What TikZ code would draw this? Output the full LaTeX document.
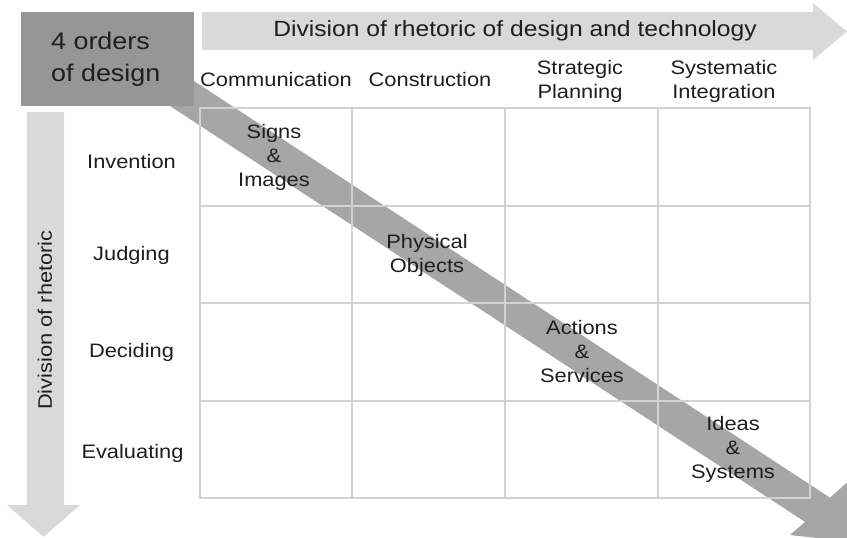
\documentclass[tikz,border=0pt]{standalone}
\usepackage{fontspec}
\setmainfont{Liberation Sans}[FakeStretch=1.12]
\definecolor{lightarrow}{HTML}{D9D9D9}
\definecolor{darkbox}{HTML}{969696}
\definecolor{bandgray}{HTML}{A6A6A6}
\definecolor{gridgray}{HTML}{D2D2D2}
\definecolor{txt}{HTML}{1E1E1E}
\begin{document}
\begin{tikzpicture}[x=1pt,y=-1pt,
  lbl/.style={font=\fontsize{19.5}{24}\selectfont, text=txt, inner sep=0pt, align=center},
  titlelbl/.style={font=\fontsize{22}{26}\selectfont, text=txt, inner sep=0pt},
  bigl/.style={font=\fontsize{24}{32}\selectfont, text=txt, inner sep=0pt, align=left},
  gridline/.style={draw=gridgray, line width=2pt},
  shapefill/.style={draw=none}]
\useasboundingbox (0,0) rectangle (847,538);
\clip (0,0) rectangle (847,538);
\fill[white] (0,0) rectangle (847,538);
% top arrow
\fill[lightarrow] (202,12) -- (813,12) -- (813,3) -- (847,31.5) -- (813,60) -- (813,50) -- (202,50) -- cycle;
% left arrow
\fill[lightarrow] (27,112) -- (64,112) -- (64,505) -- (80,505) -- (43.5,537) -- (7,505) -- (27,505) -- cycle;
% diagonal band arrow
\fill[bandgray] (100,19.5) -- (830,497.7) -- (852,478) -- (880,545) -- (790,535) -- (805,521.9) -- (100,60.15) -- cycle;
% grid
\node[gridline, minimum width=610pt, minimum height=390pt, inner sep=0pt] (grid) at (505,303) {};
\draw[gridline] (352,108) -- (352,498);
\draw[gridline] (505,108) -- (505,498);
\draw[gridline] (658,108) -- (658,498);
\draw[gridline] (200,206) -- (810,206);
\draw[gridline] (200,303) -- (810,303);
\draw[gridline] (200,401) -- (810,401);
% box
\node[fill=darkbox, minimum width=173pt, minimum height=94pt, inner sep=0pt] (ordersbox) at (107.5,59) {};
\node[bigl, anchor=west] (orders) at (51,59) {4 orders\\of design};
% titles
\node[titlelbl] (title) at (515,31) {Division of rhetoric of design and technology};
\node[lbl, rotate=90] (divrhet) at (45,320) {Division of rhetoric};
% column heads
\node[lbl] (c1) at (276,80) {Communication};
\node[lbl] (c2) at (430,80) {Construction};
\node[lbl] (c3) at (580,81) {Strategic\\Planning};
\node[lbl] (c4) at (724,81) {Systematic\\Integration};
% row heads
\node[lbl] (r1) at (131.5,162) {Invention};
\node[lbl] (r2) at (131.5,255) {Judging};
\node[lbl] (r3) at (131.5,352) {Deciding};
\node[lbl] (r4) at (132.5,453) {Evaluating};
% band labels
\node[lbl] (b1) at (274,157) {Signs\\\&\\Images};
\node[lbl] (b2) at (427,255) {Physical\\Objects};
\node[lbl] (b3) at (582,352) {Actions\\\&\\Services};
\node[lbl] (b4) at (733,449) {Ideas\\\&\\Systems};
\end{tikzpicture}
\end{document}
